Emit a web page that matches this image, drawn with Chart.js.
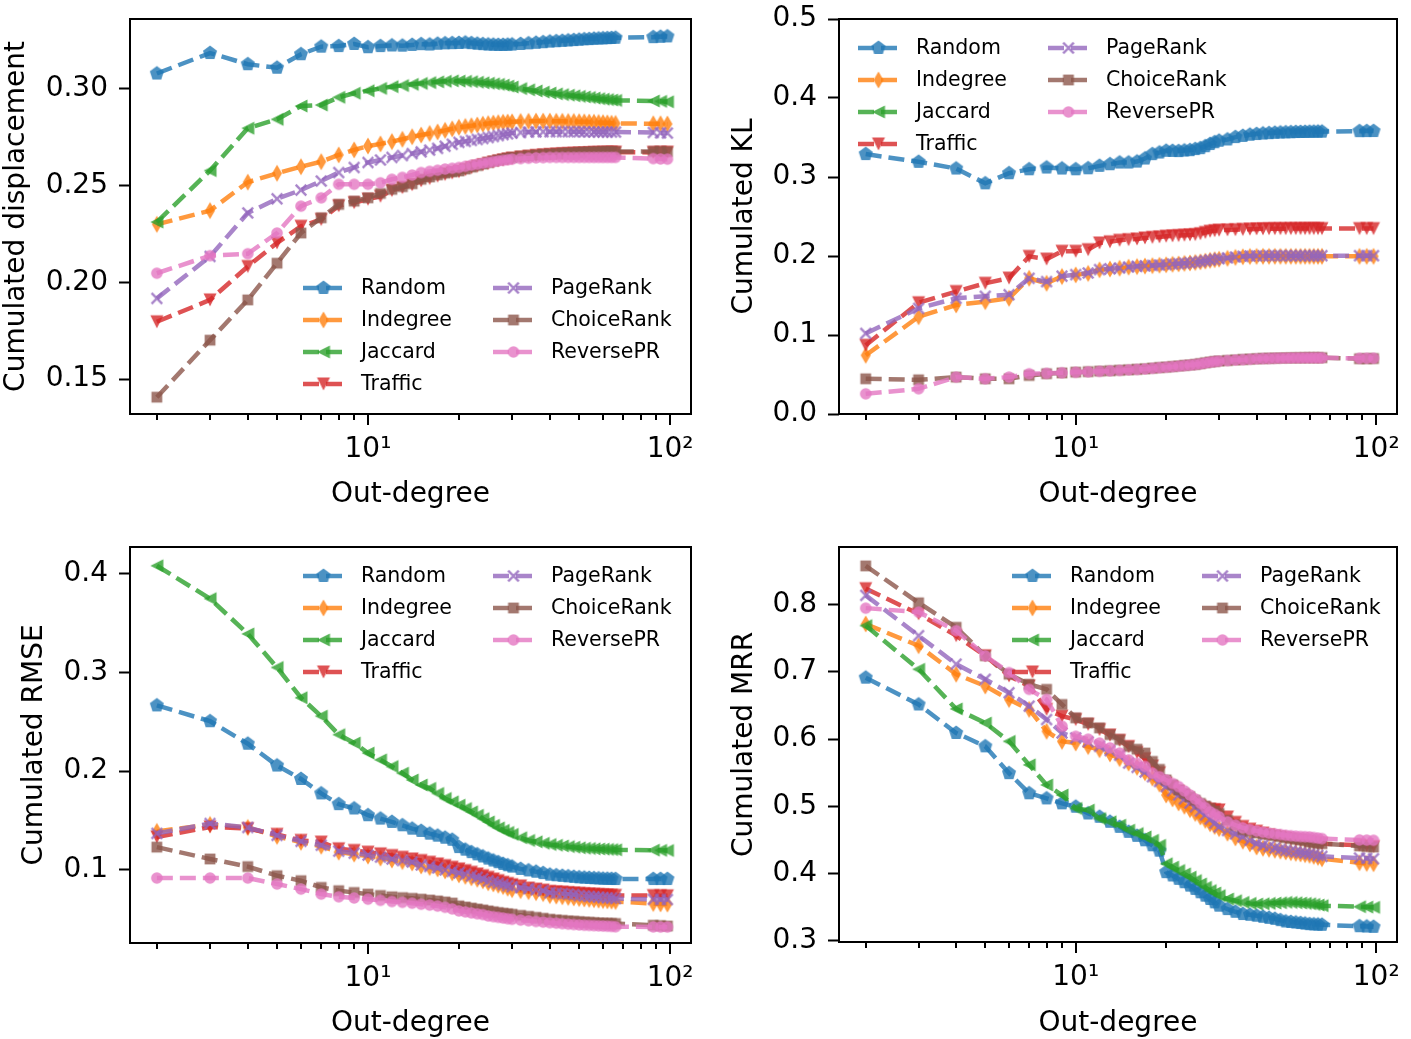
<!DOCTYPE html>
<html>
<head>
<meta charset="utf-8">
<script src="https://cdn.jsdelivr.net/npm/chart.js@4.4.1/dist/chart.umd.min.js"></script>
<style>
  body { margin: 0; background: #fff; }
  #wrap { position: relative; width: 1411px; height: 1039px; }
  canvas { position: absolute; }
</style>
</head>
<body>
<div id="wrap">
  <canvas id="dispChart" width="706" height="528" style="left:0;top:0"></canvas>
  <canvas id="klChart" width="705" height="528" style="left:706px;top:0"></canvas>
  <canvas id="rmseChart" width="706" height="511" style="left:0;top:528px"></canvas>
  <canvas id="mrrChart" width="705" height="511" style="left:706px;top:528px"></canvas>
</div>
<script>
const methods = ['Random', 'Indegree', 'Jaccard', 'Traffic', 'PageRank', 'ChoiceRank', 'ReversePR'];

// out-degree values on the x axis (shared by all four panels)
const outDegree = [2, 3, 4, 5, 6, 7, 8, 9, 10, 11,
  12, 13, 14, 15, 16, 17, 18, 19, 20, 21,
  22, 23, 24, 25, 26, 27, 28, 29, 30, 32,
  34, 36, 38, 40, 42, 44, 46, 48, 50, 52,
  54, 56, 58, 60, 62, 64, 66, 88, 93, 98];

const xTickValues = [2, 3, 4, 5, 6, 7, 8, 9, 10, 20, 30, 40, 50, 60, 70, 80, 90, 100];

// --- Cumulated displacement ---
const dispRandom = [0.3080, 0.3186, 0.3128, 0.3110, 0.3180, 0.3219, 0.3222, 0.3233, 0.3216, 0.3222,
  0.3225, 0.3224, 0.3228, 0.3232, 0.3230, 0.3234, 0.3236, 0.3237, 0.3238, 0.3240,
  0.3237, 0.3234, 0.3232, 0.3230, 0.3229, 0.3228, 0.3228, 0.3229, 0.3230, 0.3233,
  0.3236, 0.3239, 0.3242, 0.3245, 0.3247, 0.3249, 0.3251, 0.3253, 0.3255, 0.3257,
  0.3258, 0.3260, 0.3261, 0.3262, 0.3263, 0.3264, 0.3265, 0.3268, 0.3270, 0.3272];
const dispIndegree = [0.2300, 0.2371, 0.2518, 0.2564, 0.2598, 0.2624, 0.2659, 0.2685, 0.2705, 0.2716,
  0.2728, 0.2740, 0.2753, 0.2762, 0.2770, 0.2778, 0.2786, 0.2794, 0.2802, 0.2806,
  0.2810, 0.2814, 0.2818, 0.2821, 0.2824, 0.2826, 0.2828, 0.2829, 0.2830, 0.2832,
  0.2833, 0.2834, 0.2834, 0.2834, 0.2833, 0.2833, 0.2832, 0.2832, 0.2831, 0.2830,
  0.2829, 0.2828, 0.2827, 0.2826, 0.2825, 0.2823, 0.2822, 0.2820, 0.2820, 0.2819];
const dispJaccard = [0.2312, 0.2578, 0.2797, 0.2843, 0.2912, 0.2917, 0.2957, 0.2978, 0.2991, 0.3003,
  0.3012, 0.3018, 0.3024, 0.3029, 0.3033, 0.3037, 0.3040, 0.3042, 0.3041, 0.3040,
  0.3038, 0.3035, 0.3032, 0.3030, 0.3027, 0.3024, 0.3020, 0.3015, 0.3010, 0.3002,
  0.2996, 0.2990, 0.2984, 0.2979, 0.2975, 0.2971, 0.2968, 0.2965, 0.2962, 0.2959,
  0.2956, 0.2953, 0.2950, 0.2947, 0.2945, 0.2943, 0.2941, 0.2938, 0.2936, 0.2934];
const dispTraffic = [0.1796, 0.1909, 0.2082, 0.2204, 0.2290, 0.2325, 0.2396, 0.2412, 0.2430, 0.2445,
  0.2475, 0.2490, 0.2505, 0.2525, 0.2537, 0.2549, 0.2558, 0.2565, 0.2572, 0.2582,
  0.2592, 0.2600, 0.2608, 0.2615, 0.2622, 0.2628, 0.2633, 0.2638, 0.2642, 0.2648,
  0.2652, 0.2656, 0.2659, 0.2661, 0.2663, 0.2665, 0.2666, 0.2667, 0.2668, 0.2669,
  0.2670, 0.2671, 0.2671, 0.2672, 0.2672, 0.2673, 0.2673, 0.2672, 0.2672, 0.2673];
const dispPageRank = [0.1917, 0.2134, 0.2359, 0.2432, 0.2477, 0.2524, 0.2568, 0.2594, 0.2620, 0.2633,
  0.2646, 0.2656, 0.2666, 0.2675, 0.2684, 0.2693, 0.2704, 0.2714, 0.2724, 0.2729,
  0.2734, 0.2739, 0.2744, 0.2749, 0.2754, 0.2759, 0.2764, 0.2768, 0.2772, 0.2775,
  0.2777, 0.2778, 0.2779, 0.2779, 0.2779, 0.2779, 0.2779, 0.2779, 0.2779, 0.2778,
  0.2778, 0.2778, 0.2777, 0.2777, 0.2777, 0.2777, 0.2777, 0.2775, 0.2773, 0.2772];
const dispChoiceRank = [0.1406, 0.1701, 0.1909, 0.2099, 0.2255, 0.2334, 0.2403, 0.2420, 0.2437, 0.2460,
  0.2481, 0.2495, 0.2510, 0.2533, 0.2545, 0.2556, 0.2565, 0.2571, 0.2576, 0.2586,
  0.2596, 0.2604, 0.2612, 0.2620, 0.2627, 0.2633, 0.2638, 0.2642, 0.2646, 0.2652,
  0.2656, 0.2659, 0.2662, 0.2664, 0.2666, 0.2668, 0.2669, 0.2670, 0.2672, 0.2673,
  0.2674, 0.2675, 0.2675, 0.2676, 0.2676, 0.2676, 0.2676, 0.2677, 0.2677, 0.2676];
const dispReversePR = [0.2047, 0.2138, 0.2148, 0.2255, 0.2394, 0.2437, 0.2507, 0.2507, 0.2507, 0.2515,
  0.2533, 0.2543, 0.2555, 0.2568, 0.2574, 0.2580, 0.2586, 0.2590, 0.2594, 0.2600,
  0.2606, 0.2611, 0.2616, 0.2620, 0.2624, 0.2628, 0.2631, 0.2634, 0.2637, 0.2640,
  0.2642, 0.2644, 0.2645, 0.2646, 0.2646, 0.2646, 0.2646, 0.2646, 0.2646, 0.2646,
  0.2646, 0.2646, 0.2646, 0.2646, 0.2646, 0.2646, 0.2646, 0.2640, 0.2638, 0.2637];
const dispTicks = [0.15, 0.20, 0.25, 0.30];

// --- Cumulated KL ---
const klRandom = [0.3290, 0.3192, 0.3107, 0.2920, 0.3048, 0.3098, 0.3120, 0.3107, 0.3098, 0.3110,
  0.3141, 0.3162, 0.3183, 0.3183, 0.3195, 0.3234, 0.3289, 0.3310, 0.3332, 0.3330,
  0.3328, 0.3335, 0.3340, 0.3353, 0.3365, 0.3390, 0.3417, 0.3440, 0.3459, 0.3475,
  0.3505, 0.3520, 0.3535, 0.3544, 0.3550, 0.3555, 0.3560, 0.3563, 0.3565, 0.3567,
  0.3569, 0.3570, 0.3571, 0.3572, 0.3573, 0.3574, 0.3574, 0.3580, 0.3581, 0.3582];
const klIndegree = [0.0743, 0.1231, 0.1380, 0.1422, 0.1465, 0.1718, 0.1655, 0.1740, 0.1761, 0.1780,
  0.1825, 0.1835, 0.1845, 0.1859, 0.1866, 0.1872, 0.1878, 0.1883, 0.1889, 0.1895,
  0.1900, 0.1906, 0.1912, 0.1918, 0.1926, 0.1935, 0.1945, 0.1953, 0.1960, 0.1970,
  0.1982, 0.1990, 0.1994, 0.1995, 0.1996, 0.1996, 0.1996, 0.1996, 0.1996, 0.1996,
  0.1996, 0.1996, 0.1996, 0.1996, 0.1996, 0.1996, 0.1996, 0.1996, 0.1996, 0.1996];
const klJaccard = []; // no Jaccard curve is drawn in this panel
const klTraffic = [0.0870, 0.1409, 0.1550, 0.1655, 0.1720, 0.1995, 0.1961, 0.2060, 0.2060, 0.2080,
  0.2165, 0.2180, 0.2199, 0.2207, 0.2215, 0.2228, 0.2235, 0.2242, 0.2250, 0.2254,
  0.2258, 0.2263, 0.2267, 0.2271, 0.2282, 0.2298, 0.2313, 0.2320, 0.2326, 0.2330,
  0.2333, 0.2336, 0.2340, 0.2343, 0.2344, 0.2345, 0.2346, 0.2346, 0.2346, 0.2347,
  0.2347, 0.2347, 0.2347, 0.2347, 0.2347, 0.2347, 0.2347, 0.2347, 0.2347, 0.2347];
const klPageRank = [0.1020, 0.1337, 0.1465, 0.1490, 0.1510, 0.1718, 0.1676, 0.1745, 0.1765, 0.1785,
  0.1828, 0.1838, 0.1848, 0.1862, 0.1869, 0.1875, 0.1881, 0.1886, 0.1892, 0.1898,
  0.1903, 0.1909, 0.1915, 0.1921, 0.1930, 0.1940, 0.1950, 0.1958, 0.1966, 0.1976,
  0.1988, 0.1996, 0.2000, 0.2002, 0.2003, 0.2004, 0.2004, 0.2004, 0.2004, 0.2004,
  0.2004, 0.2004, 0.2004, 0.2004, 0.2004, 0.2004, 0.2004, 0.2004, 0.2004, 0.2004];
const klChoiceRank = [0.0446, 0.0433, 0.0467, 0.0446, 0.0446, 0.0488, 0.0510, 0.0520, 0.0530, 0.0536,
  0.0543, 0.0548, 0.0554, 0.0560, 0.0566, 0.0572, 0.0580, 0.0588, 0.0594, 0.0601,
  0.0608, 0.0615, 0.0621, 0.0628, 0.0637, 0.0648, 0.0658, 0.0665, 0.0671, 0.0678,
  0.0685, 0.0690, 0.0695, 0.0700, 0.0703, 0.0705, 0.0707, 0.0709, 0.0710, 0.0711,
  0.0712, 0.0712, 0.0713, 0.0713, 0.0713, 0.0713, 0.0713, 0.0700, 0.0701, 0.0702];
const klReversePR = [0.0255, 0.0319, 0.0467, 0.0446, 0.0467, 0.0510, 0.0515, 0.0522, 0.0528, 0.0534,
  0.0540, 0.0546, 0.0552, 0.0558, 0.0564, 0.0570, 0.0578, 0.0586, 0.0592, 0.0599,
  0.0606, 0.0613, 0.0619, 0.0626, 0.0635, 0.0646, 0.0656, 0.0663, 0.0669, 0.0676,
  0.0683, 0.0688, 0.0693, 0.0698, 0.0701, 0.0703, 0.0705, 0.0707, 0.0708, 0.0709,
  0.0710, 0.0710, 0.0711, 0.0711, 0.0711, 0.0711, 0.0711, 0.0705, 0.0706, 0.0706];
const klTicks = [0.0, 0.1, 0.2, 0.3, 0.4, 0.5];

// --- Cumulated RMSE ---
const rmseRandom = [0.2666, 0.2506, 0.2278, 0.2057, 0.1921, 0.1775, 0.1666, 0.1622, 0.1554, 0.1520,
  0.1486, 0.1452, 0.1418, 0.1395, 0.1367, 0.1347, 0.1326, 0.1305, 0.1231, 0.1205,
  0.1180, 0.1158, 0.1136, 0.1115, 0.1095, 0.1078, 0.1061, 0.1047, 0.1034, 0.1010,
  0.0995, 0.0982, 0.0968, 0.0952, 0.0946, 0.0940, 0.0935, 0.0930, 0.0925, 0.0922,
  0.0919, 0.0916, 0.0914, 0.0911, 0.0910, 0.0909, 0.0908, 0.0908, 0.0908, 0.0908];
const rmseIndegree = [0.1390, 0.1460, 0.1430, 0.1340, 0.1280, 0.1240, 0.1180, 0.1160, 0.1140, 0.1120,
  0.1100, 0.1085, 0.1070, 0.1040, 0.1025, 0.1010, 0.0990, 0.0970, 0.0950, 0.0935,
  0.0920, 0.0905, 0.0890, 0.0870, 0.0858, 0.0845, 0.0832, 0.0815, 0.0800, 0.0790,
  0.0780, 0.0770, 0.0760, 0.0740, 0.0735, 0.0728, 0.0722, 0.0716, 0.0710, 0.0706,
  0.0702, 0.0698, 0.0694, 0.0690, 0.0687, 0.0684, 0.0680, 0.0660, 0.0656, 0.0654];
const rmseJaccard = [0.4080, 0.3747, 0.3390, 0.3050, 0.2744, 0.2557, 0.2370, 0.2285, 0.2183, 0.2115,
  0.2047, 0.1980, 0.1911, 0.1860, 0.1826, 0.1775, 0.1724, 0.1690, 0.1656, 0.1622,
  0.1588, 0.1554, 0.1520, 0.1486, 0.1452, 0.1426, 0.1401, 0.1380, 0.1360, 0.1326,
  0.1299, 0.1285, 0.1270, 0.1258, 0.1250, 0.1243, 0.1236, 0.1230, 0.1224, 0.1220,
  0.1217, 0.1214, 0.1212, 0.1210, 0.1208, 0.1206, 0.1204, 0.1200, 0.1198, 0.1197];
const rmseTraffic = [0.1333, 0.1435, 0.1418, 0.1360, 0.1299, 0.1282, 0.1214, 0.1197, 0.1180, 0.1163,
  0.1146, 0.1128, 0.1111, 0.1095, 0.1078, 0.1061, 0.1044, 0.1027, 0.1010, 0.0993,
  0.0976, 0.0959, 0.0942, 0.0925, 0.0908, 0.0891, 0.0874, 0.0862, 0.0850, 0.0838,
  0.0816, 0.0805, 0.0795, 0.0782, 0.0778, 0.0774, 0.0770, 0.0766, 0.0762, 0.0759,
  0.0756, 0.0753, 0.0750, 0.0748, 0.0746, 0.0744, 0.0742, 0.0740, 0.0739, 0.0738];
const rmsePageRank = [0.1370, 0.1470, 0.1430, 0.1350, 0.1290, 0.1250, 0.1190, 0.1170, 0.1150, 0.1130,
  0.1110, 0.1095, 0.1080, 0.1050, 0.1035, 0.1020, 0.1000, 0.0985, 0.0970, 0.0955,
  0.0940, 0.0925, 0.0910, 0.0890, 0.0878, 0.0866, 0.0854, 0.0842, 0.0830, 0.0820,
  0.0810, 0.0800, 0.0790, 0.0770, 0.0765, 0.0760, 0.0755, 0.0750, 0.0740, 0.0736,
  0.0732, 0.0728, 0.0725, 0.0720, 0.0717, 0.0714, 0.0710, 0.0702, 0.0700, 0.0700];
const rmseChoiceRank = [0.1231, 0.1111, 0.1034, 0.0942, 0.0891, 0.0823, 0.0790, 0.0772, 0.0755, 0.0741,
  0.0728, 0.0720, 0.0712, 0.0704, 0.0695, 0.0686, 0.0676, 0.0665, 0.0636, 0.0625,
  0.0614, 0.0604, 0.0595, 0.0585, 0.0576, 0.0568, 0.0561, 0.0556, 0.0551, 0.0540,
  0.0530, 0.0520, 0.0510, 0.0500, 0.0494, 0.0489, 0.0484, 0.0480, 0.0476, 0.0472,
  0.0469, 0.0466, 0.0463, 0.0461, 0.0459, 0.0458, 0.0457, 0.0440, 0.0436, 0.0432];
const rmseReversePR = [0.0918, 0.0918, 0.0918, 0.0857, 0.0806, 0.0755, 0.0728, 0.0716, 0.0704, 0.0692,
  0.0680, 0.0672, 0.0663, 0.0653, 0.0644, 0.0634, 0.0622, 0.0605, 0.0585, 0.0575,
  0.0565, 0.0556, 0.0548, 0.0534, 0.0527, 0.0520, 0.0513, 0.0506, 0.0500, 0.0492,
  0.0485, 0.0478, 0.0472, 0.0466, 0.0461, 0.0456, 0.0451, 0.0447, 0.0443, 0.0440,
  0.0438, 0.0436, 0.0434, 0.0432, 0.0430, 0.0428, 0.0425, 0.0423, 0.0422, 0.0422];
const rmseTicks = [0.1, 0.2, 0.3, 0.4];

// --- Cumulated MRR ---
const mrrRandom = [0.6915, 0.6516, 0.6092, 0.5893, 0.5493, 0.5194, 0.5118, 0.5044, 0.4994, 0.4893,
  0.4844, 0.4770, 0.4694, 0.4620, 0.4560, 0.4494, 0.4420, 0.4340, 0.4020, 0.3970,
  0.3920, 0.3870, 0.3820, 0.3770, 0.3720, 0.3670, 0.3621, 0.3570, 0.3521, 0.3470,
  0.3430, 0.3396, 0.3385, 0.3371, 0.3355, 0.3340, 0.3325, 0.3305, 0.3286, 0.3278,
  0.3270, 0.3262, 0.3254, 0.3246, 0.3242, 0.3239, 0.3236, 0.3215, 0.3210, 0.3206];
const mrrIndegree = [0.7714, 0.7390, 0.6966, 0.6790, 0.6590, 0.6442, 0.6117, 0.5967, 0.5942, 0.5890,
  0.5842, 0.5780, 0.5710, 0.5643, 0.5580, 0.5500, 0.5420, 0.5330, 0.5168, 0.5110,
  0.5050, 0.5000, 0.4950, 0.4893, 0.4840, 0.4790, 0.4740, 0.4700, 0.4668, 0.4600,
  0.4530, 0.4480, 0.4440, 0.4394, 0.4375, 0.4360, 0.4345, 0.4332, 0.4320, 0.4310,
  0.4300, 0.4290, 0.4280, 0.4270, 0.4255, 0.4240, 0.4220, 0.4160, 0.4150, 0.4145];
const mrrJaccard = [0.7690, 0.7040, 0.6450, 0.6240, 0.5967, 0.5617, 0.5318, 0.5168, 0.4969, 0.4944,
  0.4818, 0.4770, 0.4719, 0.4645, 0.4595, 0.4544, 0.4494, 0.4420, 0.4145, 0.4095,
  0.4045, 0.3995, 0.3945, 0.3895, 0.3845, 0.3795, 0.3746, 0.3710, 0.3671, 0.3621,
  0.3595, 0.3570, 0.3555, 0.3546, 0.3550, 0.3555, 0.3560, 0.3565, 0.3570, 0.3568,
  0.3565, 0.3560, 0.3555, 0.3550, 0.3540, 0.3530, 0.3521, 0.3505, 0.3500, 0.3496];
const mrrTraffic = [0.8240, 0.7865, 0.7540, 0.7241, 0.6940, 0.6790, 0.6442, 0.6342, 0.6292, 0.6220,
  0.6142, 0.6060, 0.5980, 0.5890, 0.5800, 0.5710, 0.5600, 0.5500, 0.5343, 0.5280,
  0.5220, 0.5150, 0.5090, 0.5040, 0.5000, 0.4970, 0.4955, 0.4950, 0.4945, 0.4840,
  0.4760, 0.4700, 0.4660, 0.4629, 0.4600, 0.4575, 0.4555, 0.4540, 0.4525, 0.4512,
  0.4500, 0.4490, 0.4480, 0.4470, 0.4460, 0.4452, 0.4444, 0.4420, 0.4410, 0.4400];
const mrrPageRank = [0.8140, 0.7540, 0.7116, 0.6891, 0.6691, 0.6491, 0.6292, 0.6092, 0.6018, 0.5960,
  0.5893, 0.5830, 0.5760, 0.5643, 0.5580, 0.5510, 0.5440, 0.5370, 0.5293, 0.5230,
  0.5170, 0.5110, 0.5050, 0.4994, 0.4930, 0.4870, 0.4810, 0.4750, 0.4694, 0.4640,
  0.4590, 0.4545, 0.4495, 0.4444, 0.4420, 0.4400, 0.4380, 0.4360, 0.4344, 0.4333,
  0.4322, 0.4313, 0.4304, 0.4295, 0.4285, 0.4270, 0.4255, 0.4230, 0.4225, 0.4220];
const mrrChoiceRank = [0.8579, 0.8030, 0.7665, 0.7241, 0.6966, 0.6816, 0.6741, 0.6516, 0.6317, 0.6241,
  0.6167, 0.6067, 0.5993, 0.5893, 0.5850, 0.5793, 0.5668, 0.5550, 0.5393, 0.5320,
  0.5243, 0.5190, 0.5143, 0.5090, 0.5043, 0.5005, 0.4969, 0.4930, 0.4893, 0.4793,
  0.4719, 0.4653, 0.4625, 0.4604, 0.4590, 0.4578, 0.4566, 0.4550, 0.4534, 0.4522,
  0.4510, 0.4500, 0.4490, 0.4469, 0.4460, 0.4452, 0.4444, 0.4410, 0.4400, 0.4394];
const mrrReversePR = [0.7950, 0.7890, 0.7615, 0.7240, 0.6990, 0.6741, 0.6591, 0.6192, 0.6042, 0.6000,
  0.5942, 0.5870, 0.5793, 0.5692, 0.5640, 0.5593, 0.5493, 0.5440, 0.5393, 0.5340,
  0.5293, 0.5230, 0.5170, 0.5110, 0.5043, 0.4980, 0.4919, 0.4880, 0.4844, 0.4769,
  0.4719, 0.4680, 0.4655, 0.4634, 0.4615, 0.4600, 0.4590, 0.4580, 0.4569, 0.4562,
  0.4556, 0.4550, 0.4547, 0.4544, 0.4535, 0.4527, 0.4519, 0.4500, 0.4497, 0.4494];
const mrrTicks = [0.3, 0.4, 0.5, 0.6, 0.7, 0.8];

const colors = ['31,119,180', '255,127,14', '44,160,44', '214,39,40', '148,103,189', '140,86,75', '227,119,194'];
const markerKinds = ['pentagon', 'thinDiamond', 'triLeft', 'triDown', 'x', 'square', 'circle'];
const FONT = '"DejaVu Sans", sans-serif';

function makeMarker(kind, color) {
  const size = 20;
  const c = document.createElement('canvas');
  c.width = size; c.height = size;
  const g = c.getContext('2d');
  g.translate(size / 2, size / 2);
  g.fillStyle = color;
  g.strokeStyle = color;
  g.beginPath();
  if (kind === 'pentagon') {
    for (let k = 0; k < 5; k++) {
      const a = -Math.PI / 2 + k * 2 * Math.PI / 5;
      g.lineTo(7.4 * Math.cos(a), 7.4 * Math.sin(a));
    }
  } else if (kind === 'thinDiamond') {
    g.moveTo(0, -8.5); g.lineTo(5, 0); g.lineTo(0, 8.5); g.lineTo(-5, 0);
  } else if (kind === 'triLeft') {
    g.moveTo(-6.5, 0); g.lineTo(6.5, -6.5); g.lineTo(6.5, 6.5);
  } else if (kind === 'triDown') {
    g.moveTo(0, 6.5); g.lineTo(-6.5, -6.5); g.lineTo(6.5, -6.5);
  } else if (kind === 'square') {
    g.rect(-5.4, -5.4, 10.8, 10.8);
  } else if (kind === 'circle') {
    g.arc(0, 0, 5.8, 0, Math.PI * 2);
  }
  if (kind === 'x') {
    g.lineWidth = 2.4;
    g.moveTo(-5.3, -5.3); g.lineTo(5.3, 5.3);
    g.moveTo(5.3, -5.3); g.lineTo(-5.3, 5.3);
    g.stroke();
  } else {
    g.closePath();
    g.fill();
  }
  return c;
}

const markerImgs = markerKinds.map((k, i) => makeMarker(k, `rgba(${colors[i]},0.8)`));

// spines on all four sides + log x tick marks (long at decades, short in between)
const framePlugin = {
  id: 'frame',
  afterDatasetsDraw(chart) {
    const {ctx, chartArea: a} = chart;
    const x = chart.scales.x;
    ctx.save();
    ctx.strokeStyle = '#000';
    ctx.lineWidth = 2;
    ctx.strokeRect(a.left, a.top, a.right - a.left, a.bottom - a.top);
    xTickValues.forEach(v => {
      const px = Math.round(x.getPixelForValue(v));
      const len = (v === 10 || v === 100) ? 11 : 6;
      ctx.beginPath();
      ctx.moveTo(px, a.bottom);
      ctx.lineTo(px, a.bottom + len);
      ctx.stroke();
    });
    ctx.restore();
  }
};

// two-column legend, first column holds four entries
const legendPlugin = {
  id: 'methodLegend',
  afterDraw(chart, args, opts) {
    const ctx = chart.ctx;
    ctx.save();
    ctx.font = '20.5px ' + FONT;
    ctx.textBaseline = 'middle';
    ctx.fillStyle = '#000';
    chart.data.datasets.forEach((ds, i) => {
      const col = i < 4 ? 0 : 1;
      const row = i < 4 ? i : i - 4;
      const hx = opts.x + col * opts.colGap;
      const hy = opts.y + row * opts.rowGap;
      ctx.strokeStyle = ds.borderColor;
      ctx.lineWidth = ds.borderWidth;
      ctx.setLineDash(ds.borderDash);
      ctx.beginPath();
      ctx.moveTo(hx, hy);
      ctx.lineTo(hx + opts.handle, hy);
      ctx.stroke();
      ctx.setLineDash([]);
      const img = ds.pointStyle;
      ctx.drawImage(img, hx + opts.handle / 2 - img.width / 2, hy - img.height / 2);
      ctx.fillText(ds.label, hx + opts.handle + opts.textGap, hy + 1);
    });
    ctx.restore();
  }
};

function buildPanel(id, series, yMin, yMax, yTicks, decimals, yTitle, L) {
  const datasets = methods.map((name, i) => ({
    label: name,
    data: series[i].map((v, k) => ({x: outDegree[k], y: v})),
    borderColor: `rgba(${colors[i]},0.8)`,
    borderWidth: 4.5,
    borderDash: [16, 7],
    pointStyle: markerImgs[i],
    pointRadius: 6,
    pointHoverRadius: 6,
    fill: false,
    tension: 0,
    order: -i
  }));

  new Chart(document.getElementById(id), {
    type: 'line',
    data: {datasets},
    plugins: [framePlugin, legendPlugin],
    options: {
      responsive: false,
      animation: false,
      events: [],
      layout: {padding: {left: 0, top: L.top, right: L.right, bottom: 0}},
      plugins: {
        legend: {display: false},
        tooltip: {enabled: false},
        methodLegend: {x: L.legendX, y: L.legendY, colGap: 190, rowGap: 32, handle: 41, textGap: 17}
      },
      scales: {
        x: {
          type: 'logarithmic',
          min: 1.63,
          max: 117.3,
          afterBuildTicks: s => { s.ticks = xTickValues.map(v => ({value: v})); },
          afterFit: s => { s.height = L.xAxisHeight; s.paddingLeft = 0; s.paddingRight = 0; },
          border: {display: false},
          grid: {display: false, drawTicks: false},
          ticks: {
            autoSkip: false, maxRotation: 0, minRotation: 0, padding: L.xTickPad,
            color: '#000', font: {family: FONT, size: 28},
            callback: v => v === 10 ? '10¹' : (v === 100 ? '10²' : '')
          },
          title: {display: true, text: 'Out-degree', color: '#000',
            font: {family: FONT, size: 28}, padding: {top: 0, bottom: L.xTitlePad}}
        },
        y: {
          min: yMin,
          max: yMax,
          afterBuildTicks: s => { s.ticks = yTicks.map(v => ({value: v})); },
          afterFit: s => { s.width = L.yAxisWidth; s.paddingTop = 0; s.paddingBottom = 0; },
          border: {display: false},
          grid: {display: true, drawOnChartArea: false, drawTicks: true, tickLength: 11, tickWidth: 2, tickColor: '#000'},
          ticks: {
            padding: 11, color: '#000', font: {family: FONT, size: 28},
            callback: v => v.toFixed(decimals)
          },
          title: {display: true, text: yTitle, color: '#000',
            font: {family: FONT, size: 28}, padding: {top: L.yTitlePad, bottom: 0}}
        }
      }
    }
  });
}

buildPanel('dispChart',
  [dispRandom, dispIndegree, dispJaccard, dispTraffic, dispPageRank, dispChoiceRank, dispReversePR],
  0.1319, 0.3362, dispTicks, 2, 'Cumulated displacement',
  {top: 19, right: 15, yAxisWidth: 130, xAxisHeight: 114, yTitlePad: 0, xTitlePad: 16, xTickPad: 19, legendX: 303, legendY: 288});

buildPanel('klChart',
  [klRandom, klIndegree, klJaccard, klTraffic, klPageRank, klChoiceRank, klReversePR],
  0, 0.5, klTicks, 1, 'Cumulated KL',
  {top: 19, right: 14, yAxisWidth: 133, xAxisHeight: 114, yTitlePad: 22, xTitlePad: 16, xTickPad: 19, legendX: 152, legendY: 48});

buildPanel('rmseChart',
  [rmseRandom, rmseIndegree, rmseJaccard, rmseTraffic, rmsePageRank, rmseChoiceRank, rmseReversePR],
  0.026, 0.427, rmseTicks, 1, 'Cumulated RMSE',
  {top: 19, right: 15, yAxisWidth: 130, xAxisHeight: 96, yTitlePad: 18, xTitlePad: -2, xTickPad: 19, legendX: 303, legendY: 48});

buildPanel('mrrChart',
  [mrrRandom, mrrIndegree, mrrJaccard, mrrTraffic, mrrPageRank, mrrChoiceRank, mrrReversePR],
  0.298, 0.886, mrrTicks, 1, 'Cumulated MRR',
  {top: 19, right: 14, yAxisWidth: 133, xAxisHeight: 97, yTitlePad: 22, xTitlePad: -2, xTickPad: 19, legendX: 306, legendY: 48});
</script>
</body>
</html>
